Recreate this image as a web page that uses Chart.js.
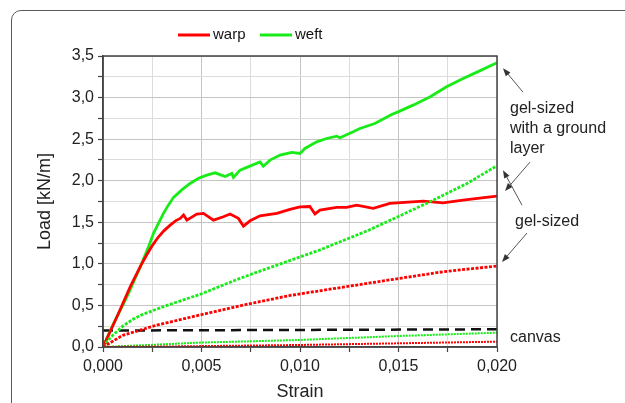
<!DOCTYPE html>
<html>
<head>
<meta charset="utf-8">
<script src="https://cdn.jsdelivr.net/npm/chart.js@4.4.1/dist/chart.umd.min.js"></script>
<style>
  html, body { margin: 0; padding: 0; background: #fff; overflow: hidden; }
  #wrap { position: relative; width: 625px; height: 403px; overflow: hidden; }
  #frame { position: absolute; left: 11px; top: 10px; width: 700px; height: 500px;
           border: 1.5px solid #5a5a5a; border-top-left-radius: 10px; box-sizing: border-box; }
  canvas { position: absolute; left: 0; top: 0; }
</style>
</head>
<body>
<div id="wrap">
  <div id="frame"></div>
  <canvas id="mainCanvas" width="625" height="403"></canvas>
</div>
<script>
// values (strain, load kN/m)
const warpGroundX = [0, 0.00071, 0.00138, 0.00193, 0.0022, 0.0025, 0.0028, 0.0031, 0.00341, 0.0037, 0.00392, 0.00409, 0.00426, 0.00476, 0.0051, 0.00561, 0.00611, 0.00645, 0.00687, 0.00713, 0.00747, 0.00797, 0.00882, 0.00949, 0.0100, 0.0105, 0.01076, 0.01101, 0.01186, 0.01237, 0.01287, 0.01372, 0.01456, 0.01625, 0.01726, 0.01828, 0.01912, 0.02];
const warpGroundY = [0, 0.364, 0.725, 0.985, 1.1, 1.22, 1.32, 1.4, 1.466, 1.52, 1.547, 1.587, 1.526, 1.599, 1.607, 1.526, 1.566, 1.599, 1.547, 1.454, 1.518, 1.578, 1.607, 1.655, 1.686, 1.69, 1.6, 1.647, 1.679, 1.679, 1.707, 1.667, 1.727, 1.755, 1.734, 1.767, 1.79, 1.815];

const weftGroundX = [0, 0.00054, 0.00122, 0.00193, 0.0023, 0.00257, 0.0028, 0.00307, 0.0033, 0.00358, 0.004, 0.00442, 0.00485, 0.00527, 0.00569, 0.0062, 0.00654, 0.00662, 0.00696, 0.0073, 0.00797, 0.00814, 0.00848, 0.00899, 0.00958, 0.0100, 0.01025, 0.01085, 0.01135, 0.01186, 0.01203, 0.0127, 0.01304, 0.0138, 0.01465, 0.01498, 0.01574, 0.01659, 0.01744, 0.01828, 0.01912, 0.02];
const weftGroundY = [0, 0.285, 0.605, 0.985, 1.2, 1.37, 1.48, 1.607, 1.7, 1.8, 1.89, 1.967, 2.03, 2.067, 2.095, 2.05, 2.087, 2.04, 2.127, 2.16, 2.227, 2.175, 2.248, 2.308, 2.34, 2.328, 2.388, 2.468, 2.508, 2.536, 2.516, 2.588, 2.628, 2.688, 2.797, 2.828, 2.909, 3.008, 3.129, 3.229, 3.321, 3.42];

const warpGelX = [0, 0.001, 0.00274, 0.00493, 0.00713, 0.0095, 0.01287, 0.01507, 0.01726, 0.02];
const warpGelY = [0, 0.14, 0.264, 0.385, 0.505, 0.62, 0.745, 0.826, 0.905, 0.974];

const weftGelX = [0, 0.0004, 0.001, 0.0015, 0.002, 0.003, 0.004, 0.005, 0.007, 0.009, 0.011, 0.0135, 0.015, 0.0168, 0.0185, 0.02];
const weftGelY = [0, 0.12, 0.25, 0.33, 0.39, 0.48, 0.56, 0.64, 0.83, 1.0, 1.166, 1.406, 1.57, 1.77, 1.97, 2.18];

const warpCanvasX = [0, 0.004, 0.0099, 0.01497, 0.02];
const warpCanvasY = [0, 0.008, 0.024, 0.044, 0.064];

const weftCanvasX = [0, 0.0023, 0.00483, 0.0099, 0.01497, 0.02];
const weftCanvasY = [0, 0.024, 0.052, 0.084, 0.132, 0.172];

const refLineX = [0, 0.02];
const refLineY = [0.198, 0.213];

const legendLabels = ['warp', 'weft'];
const xTickLabels = ['0,000', '0,005', '0,010', '0,015', '0,020'];
const yTickLabels = ['0,0', '0,5', '1,0', '1,5', '2,0', '2,5', '3,0', '3,5'];

const RED = 'rgb(255,0,0)';
const GREEN = 'rgb(25,235,25)';

function pts(xs, ys) {
    return xs.map((x, i) => ({x: x, y: ys[i]}));
}

// text notes right of the plot and their arrows (offsets from the series end)
const notes = [
    {lines: ['gel-sized', 'with a ground', 'layer'], dx: 13, y: 109},
    {lines: ['gel-sized'], dx: 18, y: 222},
    {lines: ['canvas'], dx: 13, y: 338}
];
const arrows = [
    {ds: 5, tip: [6, 5.5], tail: [26, 29.5]},
    {ds: 4, tip: [8, -5], tail: [33, -34]},
    {ds: 3, tip: [6, 4.4], tail: [25, 39.4]},
    {ds: 2, tip: [5, -4], tail: [30, -33]}
];

function drawArrow(ctx, x1, y1, x2, y2) {
    const ang = Math.atan2(y2 - y1, x2 - x1);
    ctx.beginPath();
    ctx.moveTo(x1, y1);
    ctx.lineTo(x2 - 5 * Math.cos(ang), y2 - 5 * Math.sin(ang));
    ctx.stroke();
    ctx.beginPath();
    ctx.moveTo(x2, y2);
    ctx.lineTo(x2 - 8 * Math.cos(ang) + 3 * Math.sin(ang), y2 - 8 * Math.sin(ang) - 3 * Math.cos(ang));
    ctx.lineTo(x2 - 8 * Math.cos(ang) - 3 * Math.sin(ang), y2 - 8 * Math.sin(ang) + 3 * Math.cos(ang));
    ctx.closePath();
    ctx.fill();
}

const extras = {
    id: 'extras',
    afterDraw(chart) {
        const ctx = chart.ctx;
        const a = chart.chartArea;
        ctx.save();
        // box round the plot
        ctx.strokeStyle = '#444';
        ctx.lineWidth = 1.5;
        ctx.strokeRect(a.left, a.top, a.right - a.left, a.bottom - a.top);

        // legend
        ctx.font = '15px "Liberation Sans", Arial, sans-serif';
        ctx.textBaseline = 'middle';
        ctx.fillStyle = '#111';
        let lx = 178;
        legendLabels.forEach((lab, i) => {
            ctx.strokeStyle = chart.data.datasets[4 + i].borderColor;
            ctx.lineWidth = 3;
            ctx.beginPath();
            ctx.moveTo(lx, 35);
            ctx.lineTo(lx + 32, 35);
            ctx.stroke();
            ctx.fillText(lab, lx + 35, 35);
            lx += 82;
        });

        // notes
        ctx.font = '16px "Liberation Sans", Arial, sans-serif';
        ctx.fillStyle = '#222';
        notes.forEach(n => {
            n.lines.forEach((t, k) => ctx.fillText(t, a.right + n.dx, n.y + k * 20));
        });

        // arrows
        ctx.strokeStyle = '#555';
        ctx.fillStyle = '#333';
        ctx.lineWidth = 1;
        arrows.forEach(ar => {
            const d = chart.data.datasets[ar.ds].data;
            const end = d[d.length - 1];
            const ex = chart.scales.x.getPixelForValue(end.x);
            const ey = chart.scales.y.getPixelForValue(end.y);
            drawArrow(ctx, ex + ar.tail[0], ey + ar.tail[1], ex + ar.tip[0], ey + ar.tip[1]);
        });
        ctx.restore();
    }
};

Chart.defaults.font.family = '"Liberation Sans", Arial, sans-serif';
Chart.defaults.color = '#222';

const gridOpts = {
    color: ctx => ctx.index % 2 ? '#dcdcdc' : '#c4c4c4',
    dash: ctx => ctx.index % 2 ? [2, 2] : [],
    borderDash: ctx => ctx.index % 2 ? [2, 2] : [],
    lineWidth: 1,
    tickColor: '#444',
    tickLength: 5,
    tickWidth: 1.2
};

const chart = new Chart(document.getElementById('mainCanvas'), {
    type: 'line',
    data: {
        datasets: [
            {label: 'warp canvas', data: pts(warpCanvasX, warpCanvasY), borderColor: RED, borderWidth: 2, borderDash: [2, 1]},
            {label: 'weft canvas', data: pts(weftCanvasX, weftCanvasY), borderColor: GREEN, borderWidth: 2, borderDash: [2, 1]},
            {label: 'warp gel-sized', data: pts(warpGelX, warpGelY), borderColor: RED, borderWidth: 2.8, borderDash: [3, 1.5]},
            {label: 'weft gel-sized', data: pts(weftGelX, weftGelY), borderColor: GREEN, borderWidth: 2.8, borderDash: [3, 1.5]},
            {label: 'warp', data: pts(warpGroundX, warpGroundY), borderColor: RED, borderWidth: 2.8},
            {label: 'weft', data: pts(weftGroundX, weftGroundY), borderColor: GREEN, borderWidth: 2.8},
            {label: 'ref', data: pts(refLineX, refLineY), borderColor: '#111', borderWidth: 2.5, borderDash: [10, 6]}
        ]
    },
    options: {
        responsive: false,
        animation: false,
        elements: {point: {radius: 0}, line: {tension: 0, fill: false}},
        layout: {padding: {top: 56, right: 128, left: 0, bottom: 0}},
        plugins: {legend: {display: false}, tooltip: {enabled: false}},
        scales: {
            x: {
                type: 'linear', min: 0, max: 0.02,
                afterFit: s => { s.height = 56; },
                ticks: {
                    stepSize: 0.0025, autoSkip: false, maxRotation: 0, padding: 5,
                    font: {size: 16}, color: '#222',
                    callback: (v, i) => i % 2 ? '' : xTickLabels[i / 2]
                },
                grid: gridOpts,
                border: {color: '#444', width: 1.5},
                title: {display: true, text: 'Strain', font: {size: 18}, color: '#222', padding: {top: 0, bottom: 0.5}}
            },
            y: {
                min: 0, max: 3.5,
                afterFit: s => { s.width = 103; },
                ticks: {
                    stepSize: 0.25, autoSkip: false, padding: 4,
                    font: {size: 16}, color: '#222',
                    callback: (v, i) => i % 2 ? '' : yTickLabels[i / 2]
                },
                grid: gridOpts,
                border: {color: '#444', width: 1.5},
                title: {display: true, text: 'Load [kN/m]', font: {size: 18}, color: '#222', padding: {top: 34, bottom: 0}}
            }
        }
    },
    plugins: [extras]
});
</script>
</body>
</html>
